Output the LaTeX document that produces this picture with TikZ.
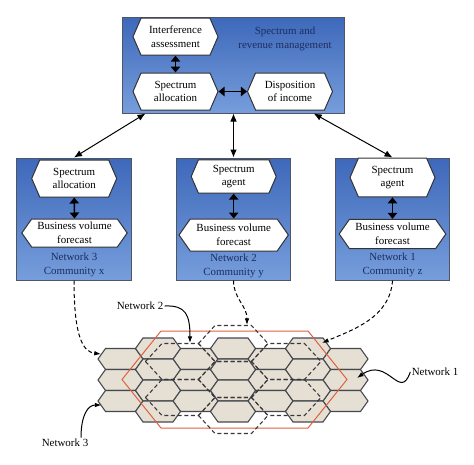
\documentclass[tikz,border=0pt]{standalone}
\usepackage{fontspec}
\setmainfont{Liberation Serif}
\usetikzlibrary{shapes.symbols,arrows.meta}
\definecolor{panelrim}{RGB}{78,86,100}
\definecolor{paneltop}{RGB}{62,104,186}
\definecolor{panelbot}{RGB}{118,158,220}
\definecolor{navy}{RGB}{28,45,95}
\definecolor{cellfill}{RGB}{229,224,211}
\definecolor{cellrim}{RGB}{70,72,80}
\definecolor{netred}{RGB}{222,96,66}
\tikzset{every picture/.style={line width=0.75pt}}
\tikzset{
  panel/.style={draw=panelrim, top color=paneltop, bottom color=panelbot, inner sep=0pt},
  hexbox/.style={signal, signal to=east and west, draw={rgb,255:red,50;green,50;blue,55}, fill=white,
    align=center, inner sep=1pt, font=\fontsize{8.2}{10.2}\selectfont},
  bighex/.style={minimum width=63.75pt, minimum height=27.75pt, signal pointer angle=133},
  widehex/.style={minimum width=79pt, minimum height=21pt, signal pointer angle=110},
  paneltext/.style={align=center, text=navy, inner sep=0.75pt, font=\fontsize{8.2}{11}\selectfont},
  labeltext/.style={inner sep=0.75pt, font=\fontsize{8.2}{10}\selectfont},
  link/.style={{Latex[length=6pt,width=5pt]}-{Latex[length=6pt,width=5pt]}},
  pair/.style={{Triangle[length=4.5pt,width=7pt]}-{Triangle[length=4.5pt,width=7pt]}, line width=1.1pt},
  cell/.style={fill=cellfill, draw=cellrim, line width=0.8pt},
  zone/.style={draw={rgb,255:red,55;green,55;blue,60}, dash pattern=on 3pt off 2pt, line width=0.8pt},
  feed/.style={dash pattern=on 3pt off 2pt, -{Latex[length=5pt,width=3.5pt]}},
  pointer/.style={-{Latex[length=5pt,width=3.5pt]}}
}
\begin{document}
\begin{tikzpicture}[x=0.75pt,y=0.75pt,yscale=-1,xscale=1]
\useasboundingbox (0,0) rectangle (474,464);

%Shape: Rectangle [management]
\node[panel, minimum width=166.5pt, minimum height=72pt] (mgmt) at (233,65) {};
% Text Node
\node[paneltext] (mgmttxt) at (285,39) {Spectrum and\\revenue management};
%Shape: Hexagon
\node[hexbox, bighex] (interf) at (175.5,36.7) {Interference\\assessment};
%Shape: Hexagon
\node[hexbox, bighex] (alloc) at (175.5,91.5) {Spectrum\\allocation};
%Shape: Hexagon
\node[hexbox, bighex] (dispo) at (290,91.5) {Disposition\\of income};
\draw[pair] (interf.south) -- (alloc.north);
\draw[pair] (alloc.east) -- (dispo.west);

%Shape: Rectangle [network 3]
\node[panel, minimum width=85.9pt, minimum height=91.5pt] (net3) at (74,219) {};
\node[hexbox, bighex] (alloc3) at (74.2,178.5) {Spectrum\\allocation};
\node[hexbox, widehex] (fcst3) at (74.5,233) {Business volume\\forecast};
\node[paneltext] (comm3) at (74,265) {Network 3\\Community x};
\draw[pair] (alloc3.south) -- (fcst3.north);

%Shape: Rectangle [network 2]
\node[panel, minimum width=85.9pt, minimum height=91.5pt] (net2) at (233.5,219) {};
\node[hexbox, bighex, minimum height=25pt] (agent2) at (233.7,176.5) {Spectrum\\agent};
\node[hexbox, widehex, minimum width=82pt, minimum height=24pt] (fcst2) at (233.7,235) {Business volume\\forecast};
\node[paneltext] (comm2) at (233.5,266) {Network 2\\Community y};
\draw[pair] (agent2.south) -- (fcst2.north);

%Shape: Rectangle [network 1]
\node[panel, minimum width=85.9pt, minimum height=91.5pt] (net1) at (392.5,219) {};
\node[hexbox, bighex, minimum height=29pt] (agent1) at (392.5,177.5) {Spectrum\\agent};
\node[hexbox, widehex, minimum width=80pt, minimum height=22pt] (fcst1) at (392.5,234) {Business volume\\forecast};
\node[paneltext] (comm1) at (392.5,265) {Network 1\\Community z};
\draw[pair] (agent1.south) -- (fcst1.north);

%Straight Lines
\draw[link] (net3.north) -- (mgmt.209.5);
\draw[link] (net2.north) -- (net2.north |- mgmt.south);
\draw[link] (net1.north) -- (mgmt.329);

%Shape: Cells [network 3]
\foreach \c in {0,2,4,6}{
  \foreach \r in {359,380,401}{
    \filldraw[cell] ({98+37.5*\c},\r) -- ++(7.5,-10.5) -- ++(30,0) -- ++(7.5,10.5) -- ++(-7.5,10.5) -- ++(-30,0) -- cycle;
  }
}
\foreach \c in {1,3,5}{
  \foreach \r in {348.5,369.5,390.5,411.5}{
    \filldraw[cell] ({98+37.5*\c},\r) -- ++(7.5,-10.5) -- ++(30,0) -- ++(7.5,10.5) -- ++(-7.5,10.5) -- ++(-30,0) -- cycle;
  }
}

%Shape: Hexagon [network 1]
\draw[netred] (122,379.5) -- (161,331) -- (308,331) -- (347,379.5) -- (308,428) -- (161,428) -- cycle;

%Shape: Dashed cells [network 2]
\foreach \k/\r in {0/361.5,0/397.5,1/343.5,1/379.5,1/415.5,2/361.5,2/397.5}{
  \draw[zone] ({145.5+53*\k},\r) -- ++(16.5,-18) -- ++(36.5,0) -- ++(16.5,18) -- ++(-16.5,18) -- ++(-36.5,0) -- cycle;
}

% Text Node
\node[labeltext] (lbl2) at (140,306) {Network 2};
\node[labeltext] (lbl3) at (65,443) {Network 3};
\node[labeltext] (lbl1) at (435,372) {Network 1};

\coordinate (tip2) at (190,343);
\coordinate (tip3) at (101.5,405);
\coordinate (tip1) at (357,378);
\coordinate (in3) at (101,354);
\coordinate (in2) at (247,325);
\coordinate (in1) at (322,343);

%Curve Lines
\draw[pointer] (lbl2.east) .. controls (186,305) and (190,315) .. (tip2);
\draw[pointer] ([xshift=12pt]lbl3.north) .. controls (81,415) and (88,405) .. (tip3);
\draw[pointer] (lbl1.west) .. controls (400,402) and (388,356) .. (tip1);

%Curve Lines [dashed feeders]
\draw[feed] (net3.south) .. controls (74,340) and (84,352) .. (in3);
\draw[feed] (net2.south) .. controls (234,300) and (247,305) .. (in2);
\draw[feed] (net1.south) .. controls (390,318) and (352,330) .. (in1);

\end{tikzpicture}
\end{document}
